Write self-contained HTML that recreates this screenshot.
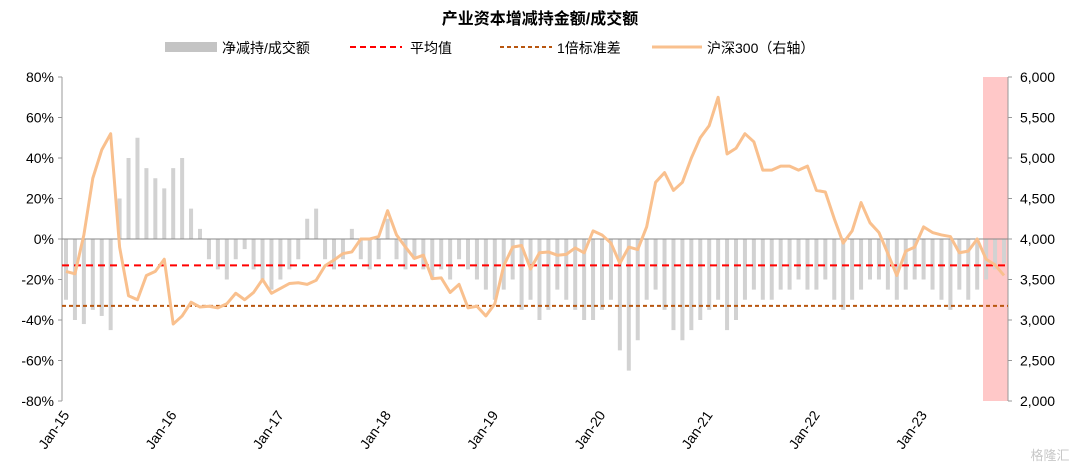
<!DOCTYPE html>
<html><head><meta charset="utf-8">
<style>
body{margin:0;background:#fff;}
svg text{font-family:"Liberation Sans","Noto Sans CJK SC",sans-serif;}
</style></head>
<body>
<svg id="c" width="1080" height="470" xmlns="http://www.w3.org/2000/svg">
<text x="540" y="24" text-anchor="middle" font-size="16" font-weight="bold" fill="#000">产业资本增减持金额/成交额</text>
<g font-size="14" fill="#000">
<rect x="165" y="42" width="52" height="10" fill="#c4c4c4"/>
<text x="222" y="53">净减持/成交额</text>
<line x1="350" y1="47" x2="402" y2="47" stroke="#ff0000" stroke-width="2" stroke-dasharray="6,4"/>
<text x="410" y="53">平均值</text>
<line x1="500" y1="47" x2="552" y2="47" stroke="#b8560f" stroke-width="2" stroke-dasharray="4,3"/>
<text x="557" y="53">1倍标准差</text>
<line x1="652" y1="47" x2="702" y2="47" stroke="#f9c08e" stroke-width="3"/>
<text x="707" y="53">沪深300（右轴）</text>
</g>
<rect x="983" y="77" width="25" height="324" fill="#ffc8c8"/>
<g id="bars"></g>
<g id="axes"></g>
<g id="lines"></g>
<text x="1050" y="460" text-anchor="middle" font-size="13" fill="#c8c8c8">格隆汇</text>
</svg>
<script>
const years=["Jan-15","Jan-16","Jan-17","Jan-18","Jan-19","Jan-20","Jan-21","Jan-22","Jan-23"];
const leftTicks=[80,60,40,20,0,-20,-40,-60,-80];
const rightTicks=[6000,5500,5000,4500,4000,3500,3000,2500,2000];
const meanValue=-13;
const stdValue=-33;
const netSell=[-30,-40,-42,-35,-38,-45,20,40,50,35,30,25,
35,40,15,5,-10,-15,-20,-10,-5,-15,-20,-25,
-20,-15,-10,10,15,-10,-15,-10,5,-10,-15,-10,
10,-10,-15,-10,-15,-20,-15,-20,-10,-15,-20,-25,
-30,-25,-20,-35,-30,-40,-35,-25,-30,-35,-40,-40,
-35,-30,-55,-65,-50,-30,-25,-35,-45,-50,-45,-40,
-35,-30,-45,-40,-30,-25,-30,-30,-25,-25,-20,-25,
-25,-20,-30,-35,-30,-25,-20,-20,-25,-30,-25,-20,
-20,-25,-30,-35,-25,-30,-25,-20,-15,-12];
const csi300=[3600,3570,4050,4750,5100,5300,3900,3300,3250,3550,3600,3750,
2950,3050,3220,3160,3170,3150,3200,3330,3250,3340,3500,3330,
3390,3450,3460,3440,3490,3670,3740,3820,3840,4000,4000,4030,
4350,4050,3900,3760,3800,3510,3520,3340,3440,3150,3170,3050,
3200,3670,3900,3920,3630,3830,3840,3800,3810,3890,3830,4100,
4050,3950,3700,3900,3870,4150,4700,4820,4600,4700,5000,5250,
5400,5750,5050,5120,5300,5200,4850,4850,4900,4900,4850,4900,
4600,4580,4250,3950,4100,4450,4200,4080,3820,3550,3850,3900,
4150,4080,4050,4030,3830,3850,4000,3750,3680,3550];
const NS="http://www.w3.org/2000/svg";
const X0=62,X1=1008,YT=77,YB=401;
const xPos=i=>X0+4+i*(X1-X0-8)/(netSell.length-1);
const yL=v=>YT+(80-v)/160*(YB-YT);
const yR=v=>YT+(6000-v)/4000*(YB-YT);
function mk(tag,attrs,parent){const e=document.createElementNS(NS,tag);for(const k in attrs)e.setAttribute(k,attrs[k]);parent.appendChild(e);return e;}
const bars=document.getElementById('bars');
netSell.forEach((v,i)=>{
 const y0=yL(0),y1=yL(v);
 const r=mk('rect',{x:xPos(i)-2,y:Math.min(y0,y1),width:4,height:Math.abs(y1-y0),fill:'#d2d2d2'},bars);
 
 
});
const ax=document.getElementById('axes');
let a=mk('line',{x1:X0,y1:YT,x2:X0,y2:YB,stroke:'#999'},ax);

a=mk('line',{x1:X1,y1:YT,x2:X1,y2:YB,stroke:'#999'},ax);

a=mk('line',{x1:X0,y1:yL(0),x2:X1,y2:yL(0),stroke:'#888'},ax);

leftTicks.forEach(t=>{
 mk('line',{x1:X0-4,y1:yL(t),x2:X0,y2:yL(t),stroke:'#999'},ax);
 const e=mk('text',{x:X0-8,y:yL(t)+5,'text-anchor':'end','font-size':14},ax);e.textContent=t+'%';
 
});
rightTicks.forEach(t=>{
 mk('line',{x1:X1,y1:yR(t),x2:X1+4,y2:yR(t),stroke:'#999'},ax);
 const e=mk('text',{x:X1+12,y:yR(t)+5,'font-size':14},ax);e.textContent=t.toLocaleString('en-US');
 
});
years.forEach((t,i)=>{
 const x=xPos(i*12);
 const e=mk('text',{x:x+4,y:YB+14,'text-anchor':'end','font-size':14,transform:`rotate(-55 ${x+4} ${YB+14})`},ax);e.textContent=t;
 
});
const ln=document.getElementById('lines');
let l=mk('line',{x1:X0,y1:yL(meanValue),x2:X1,y2:yL(meanValue),stroke:'#ff0000','stroke-width':2,'stroke-dasharray':'7,5'},ln);

l=mk('line',{x1:X0,y1:yL(stdValue),x2:X1,y2:yL(stdValue),stroke:'#b8560f','stroke-width':2,'stroke-dasharray':'4,3'},ln);

const p=mk('polyline',{points:csi300.map((v,i)=>xPos(i)+','+yR(v)).join(' '),fill:'none',stroke:'#f9c08e','stroke-width':3,'stroke-linejoin':'round'},ln);


</script>
</body></html>
